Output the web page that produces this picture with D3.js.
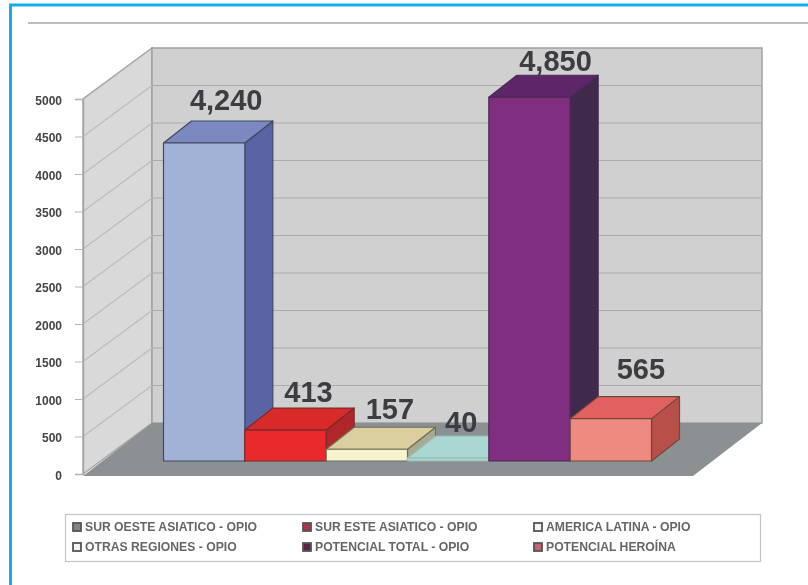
<!DOCTYPE html>
<html>
<head>
<meta charset="utf-8">
<script src="https://cdn.jsdelivr.net/npm/d3@7/dist/d3.min.js"></script>
<style>
  html, body { margin: 0; padding: 0; background: #fff; }
  svg { display: block; }
  text { font-family: "Liberation Sans", Arial, sans-serif; }
</style>
</head>
<body>
<div id="chart"></div>
<script>
// values
var categories = ["SUR OESTE ASIATICO - OPIO", "SUR ESTE ASIATICO - OPIO", "AMERICA LATINA - OPIO",
                  "OTRAS REGIONES - OPIO", "POTENCIAL TOTAL - OPIO", "POTENCIAL HEROÍNA"];
var values = [4240, 413, 157, 40, 4850, 565];
var yTicks = [0, 500, 1000, 1500, 2000, 2500, 3000, 3500, 4000, 4500, 5000];
var legendOrder = [0, 1, 2, 3, 4, 5];

var frontColors = ["#a2b1d6", "#ea2b2b", "#f6f3cf", "#a9d8d2", "#7f2f80", "#ef8a80"];
var topColors   = ["#7c88c0", "#d92a2c", "#dccf9f", "#a9d8d2", "#5d2668", "#e2605e"];
var sideColors  = ["#5a64a3", "#b1282c", "#a9ab90", "#86a8a4", "#3f2c4c", "#b84f49"];
var edgeColors  = ["#3f4a60", "#7a2a2a", "#6f6f55", "#9ab8b4", "#4a2a55", "#6e4a3a"];
var keyColors   = ["#858585", "#b03050", "#f4f4f0", "#f4f4f0", "#5a2348", "#c86070"];

var w = 808;
var h = 585;

// oblique projection of the whole box and of the bars inside it
var wallDepth = { x: 69, y: -51 };
var barDepth = { x: 28, y: -22 };
var axisX = 83;
var wallRight = 762;
var floorRight = 693;

var svg = d3.select("#chart").append("svg")
  .attr("width", w)
  .attr("height", h);

var soft = svg.append("defs").append("filter").attr("id", "soft");
soft.append("feGaussianBlur").attr("stdDeviation", 0.7);

var chart = svg.append("g").attr("filter", "url(#soft)");

// outer frame and top rule
chart.append("rect")
  .attr("x", 10.5).attr("y", 5)
  .attr("width", w + 20).attr("height", h + 20)
  .attr("fill", "none")
  .attr("stroke", "#0fb0ea")
  .attr("stroke-width", 3);
chart.append("line")
  .attr("x1", 28).attr("x2", w)
  .attr("y1", 23).attr("y2", 23)
  .attr("stroke", "#a8a8a8")
  .attr("stroke-width", 1.5);

var yScale = d3.scaleLinear()
  .domain([0, 5000])
  .range([474, 99]);

var xScale = d3.scaleBand()
  .domain(d3.range(categories.length))
  .range([163.5, 651.5]);

var barBase = 461;
function barY(v) { return barBase - (yScale(0) - yScale(v)); }

function poly(points) {
  return points.map(function(p) { return p.join(","); }).join(" ");
}

var wallBack = axisX + wallDepth.x;

// side wall
chart.append("polygon")
  .attr("points", poly([[axisX, yScale(0)], [axisX, yScale(5000)],
                        [wallBack, yScale(5000) + wallDepth.y], [wallBack, yScale(0) + wallDepth.y]]))
  .attr("fill", "#d9d9d9")
  .attr("stroke", "#a6a6a6")
  .attr("stroke-width", 1.5);

// back wall
chart.append("rect")
  .attr("x", wallBack)
  .attr("y", yScale(5000) + wallDepth.y)
  .attr("width", wallRight - wallBack)
  .attr("height", yScale(0) - yScale(5000))
  .attr("fill", "#d0d0d0")
  .attr("stroke", "#a0a0a0")
  .attr("stroke-width", 1.5);

// floor
chart.append("polygon")
  .attr("points", poly([[axisX, yScale(0) + 2], [wallBack, yScale(0) + wallDepth.y],
                        [wallRight, yScale(0) + wallDepth.y], [floorRight, yScale(0) + 2]]))
  .attr("fill", "#8b9193");

// grid lines on both walls
var grid = chart.append("g").attr("stroke-width", 1.2);
grid.selectAll("line.back")
  .data(yTicks.slice(1, -1))
  .enter().append("line")
  .attr("class", "back")
  .attr("stroke", "#ababab")
  .attr("x1", wallBack).attr("x2", wallRight)
  .attr("y1", function(d) { return yScale(d) + wallDepth.y; })
  .attr("y2", function(d) { return yScale(d) + wallDepth.y; });
grid.selectAll("line.side")
  .data(yTicks.slice(1, -1))
  .enter().append("line")
  .attr("class", "side")
  .attr("stroke", "#bcbcbc")
  .attr("x1", axisX).attr("x2", wallBack)
  .attr("y1", function(d) { return yScale(d); })
  .attr("y2", function(d) { return yScale(d) + wallDepth.y; });

// y axis
var yAxis = d3.axisLeft()
  .scale(yScale)
  .tickValues(yTicks)
  .tickSize(8)
  .tickPadding(13)
  .tickFormat(d3.format("d"));

var axisG = chart.append("g")
  .attr("transform", "translate(" + axisX + ",0)")
  .call(yAxis);
axisG.select(".domain").attr("stroke", "#a6a6a6").attr("stroke-width", 1.5);
axisG.selectAll(".tick line").attr("stroke", "#b5b5b5");
axisG.selectAll("text")
  .attr("dy", "0.42em")
  .style("font-family", '"Liberation Sans", Arial, sans-serif')
  .style("font-size", "12px")
  .style("font-weight", "bold")
  .attr("fill", "#444");

// bars, left to right, the side of each one is covered by the next bar's front
var bars = chart.append("g").selectAll("g")
  .data(values)
  .enter().append("g")
  .attr("stroke", function(d, i) { return edgeColors[i]; })
  .attr("stroke-width", 1.2)
  .attr("stroke-linejoin", "round");

bars.append("polygon")
  .attr("fill", function(d, i) { return sideColors[i]; })
  .attr("points", function(d, i) {
    var x1 = xScale(i) + xScale.bandwidth();
    return poly([[x1, barY(d)], [x1 + barDepth.x, barY(d) + barDepth.y],
                 [x1 + barDepth.x, barBase + barDepth.y], [x1, barBase]]);
  });
bars.append("polygon")
  .attr("fill", function(d, i) { return topColors[i]; })
  .attr("points", function(d, i) {
    var x0 = xScale(i), x1 = x0 + xScale.bandwidth();
    return poly([[x0, barY(d)], [x0 + barDepth.x, barY(d) + barDepth.y],
                 [x1 + barDepth.x, barY(d) + barDepth.y], [x1, barY(d)]]);
  });
bars.append("rect")
  .attr("fill", function(d, i) { return frontColors[i]; })
  .attr("x", function(d, i) { return xScale(i); })
  .attr("y", function(d) { return barY(d); })
  .attr("width", xScale.bandwidth())
  .attr("height", function(d) { return barBase - barY(d); });

// value labels, nudged by hand like in the original
var labelNudge = [[22, -33], [23, -28], [23, -30], [13, -26], [26, -26], [30, -40]];
chart.append("g").selectAll("text")
  .data(values)
  .enter().append("text")
  .attr("x", function(d, i) { return xScale(i) + xScale.bandwidth() / 2 + labelNudge[i][0]; })
  .attr("y", function(d, i) { return barY(d) + labelNudge[i][1]; })
  .attr("text-anchor", "middle")
  .attr("font-size", "29px")
  .attr("font-weight", "bold")
  .attr("fill", "#3a3d42")
  .text(function(d) { return d3.format(",")(d); });

// legend
chart.append("rect")
  .attr("x", 65.5).attr("y", 514.5)
  .attr("width", 695).attr("height", 47)
  .attr("fill", "#fff")
  .attr("stroke", "#c4c4c4")
  .attr("stroke-width", 1.2);

var legendX = d3.scaleOrdinal().domain([0, 1, 2]).range([72, 302, 533]);
var legendY = d3.scaleOrdinal().domain([0, 1]).range([527, 547]);

var items = chart.append("g").selectAll("g")
  .data(legendOrder)
  .enter().append("g")
  .attr("transform", function(d) {
    return "translate(" + legendX(d % 3) + "," + legendY(Math.floor(d / 3)) + ")";
  });
items.append("rect")
  .attr("x", 1).attr("y", -4)
  .attr("width", 8).attr("height", 8)
  .attr("fill", function(d) { return keyColors[d]; })
  .attr("stroke", "#555")
  .attr("stroke-width", 1.8);
items.append("text")
  .attr("x", 13).attr("y", 4)
  .attr("font-size", "12.2px")
  .attr("font-weight", "bold")
  .attr("fill", "#666")
  .text(function(d) { return categories[d]; });
</script>
</body>
</html>
